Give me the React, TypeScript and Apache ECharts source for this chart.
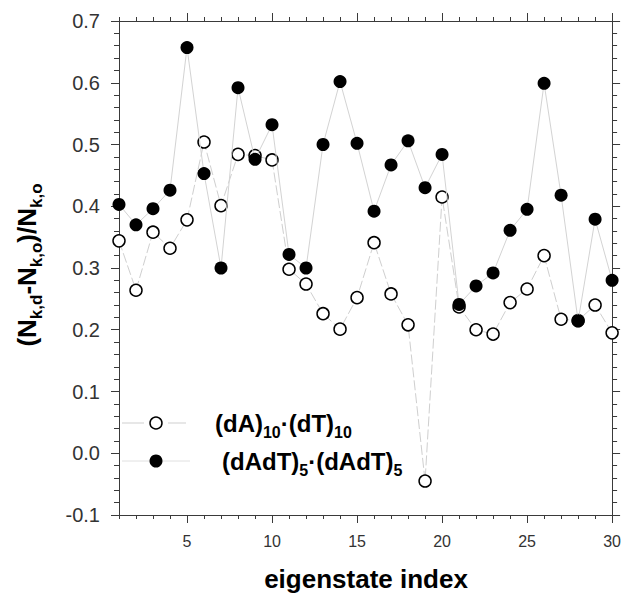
import React, { useEffect, useRef } from 'react';
import * as echarts from 'echarts';

const eigenIndex = [1, 2, 3, 4, 5, 6, 7, 8, 9, 10, 11, 12, 13, 14, 15, 16, 17, 18, 19, 20, 21, 22, 23, 24, 25, 26, 27, 28, 29, 30];
const dA10dT10 = [0.344, 0.264, 0.358, 0.332, 0.378, 0.504, 0.401, 0.484, 0.482, 0.475, 0.298, 0.274, 0.226, 0.201, 0.252, 0.341, 0.258, 0.208, -0.045, 0.415, 0.237, 0.200, 0.193, 0.244, 0.266, 0.320, 0.217, 0.215, 0.240, 0.195];
const dAdT5dAdT5 = [0.403, 0.370, 0.396, 0.426, 0.657, 0.453, 0.300, 0.592, 0.476, 0.532, 0.322, 0.300, 0.500, 0.602, 0.502, 0.392, 0.467, 0.506, 0.430, 0.484, 0.241, 0.271, 0.292, 0.361, 0.395, 0.599, 0.418, 0.214, 0.379, 0.280];
const majorXTicks = [5, 10, 15, 20, 25, 30];
const yMin = -0.1;
const yMax = 0.7;
const yStep = 0.1;

const FONT = 'Liberation Sans, Arial, Helvetica, sans-serif';
const AXIS_COLOR = '#3a3a3a';

export default function App() {
  const ref = useRef<HTMLDivElement>(null);
  useEffect(() => {
    if (!ref.current) return;
    const chart = echarts.init(ref.current, undefined, { renderer: 'svg' });
    const grid = { left: 119, right: 11, top: 21, bottom: 80 };
    const minorAxis = (position: 'bottom' | 'top') => ({
      type: 'value',
      position,
      min: 1,
      max: 30,
      interval: 1,
      axisLine: { show: true, onZero: false, lineStyle: { color: AXIS_COLOR, width: 1 } },
      axisTick: { show: true, inside: false, length: 4, lineStyle: { color: AXIS_COLOR } },
      axisLabel: { show: false },
      splitLine: { show: false },
    });
    const majorAxis = (position: 'bottom' | 'top', labels: boolean) => ({
      type: 'value',
      position,
      min: 1,
      max: 30,
      axisLine: { show: false, onZero: false },
      axisTick: { show: true, inside: false, length: 8, customValues: majorXTicks, lineStyle: { color: AXIS_COLOR } },
      axisLabel: labels
        ? { show: true, customValues: majorXTicks, fontSize: 16, color: '#333', fontFamily: FONT, margin: 18 }
        : { show: false },
      splitLine: { show: false },
    });
    const yAxisDef = (position: 'left' | 'right', labels: boolean) => ({
      type: 'value',
      position,
      min: yMin,
      max: yMax,
      interval: yStep,
      axisLine: { show: true, onZero: false, lineStyle: { color: AXIS_COLOR, width: 1 } },
      axisTick: { show: true, inside: false, length: 8, lineStyle: { color: AXIS_COLOR } },
      minorTick: { show: true, splitNumber: 5, length: 5, lineStyle: { color: AXIS_COLOR } },
      axisLabel: labels
        ? { show: true, fontSize: 20, color: '#333', fontFamily: FONT, margin: 19, formatter: (v: number) => v.toFixed(1) }
        : { show: false },
      splitLine: { show: false },
      minorSplitLine: { show: false },
    });

    const titleRich = {
      m: { fontSize: 26, fontWeight: 'bold', fontFamily: FONT, fill: '#000', lineHeight: 32, verticalAlign: 'top' },
      s: { fontSize: 17, fontWeight: 'bold', fontFamily: FONT, fill: '#000', lineHeight: 32, verticalAlign: 'top', padding: [14, 0, 0, 0] },
    };
    const legendRich = {
      m: { fontSize: 24, fontWeight: 'bold', fontFamily: FONT, fill: '#000', lineHeight: 30, verticalAlign: 'top' },
      s: { fontSize: 16, fontWeight: 'bold', fontFamily: FONT, fill: '#000', lineHeight: 30, verticalAlign: 'top', padding: [13, 0, 0, 0] },
    };

    chart.setOption({
      animation: false,
      backgroundColor: '#fff',
      grid,
      xAxis: [minorAxis('bottom'), majorAxis('bottom', true), minorAxis('top'), majorAxis('top', false)],
      yAxis: [yAxisDef('left', true), yAxisDef('right', false)],
      series: [
        {
          name: '(dA)10·(dT)10',
          type: 'line',
          xAxisIndex: 0,
          yAxisIndex: 0,
          data: eigenIndex.map((x, i) => [x, dA10dT10[i]]),
          symbol: 'circle',
          symbolSize: 12,
          clip: false,
          itemStyle: { color: '#fff', borderColor: '#000', borderWidth: 1.5 },
          lineStyle: { color: '#cfcfcf', width: 1, type: [10, 3] },
          z: 2,
        },
        {
          name: '(dAdT)5·(dAdT)5',
          type: 'line',
          xAxisIndex: 0,
          yAxisIndex: 0,
          data: eigenIndex.map((x, i) => [x, dAdT5dAdT5[i]]),
          symbol: 'circle',
          symbolSize: 13,
          clip: false,
          itemStyle: { color: '#000', borderColor: '#000', borderWidth: 0 },
          lineStyle: { color: '#d3d3d3', width: 1 },
          z: 3,
        },
      ],
      graphic: [
        {
          type: 'text',
          x: 30,
          y: 265,
          rotation: Math.PI / 2,
          style: {
            text: '{m|(N}{s|k,d}{m|-N}{s|k,o}{m|)/N}{s|k,o}',
            rich: titleRich,
            align: 'center',
            verticalAlign: 'middle',
          },
        },
        {
          type: 'text',
          x: 366,
          y: 579,
          style: {
            text: 'eigenstate index',
            fontSize: 26,
            fontWeight: 'bold',
            fontFamily: FONT,
            fill: '#000',
            align: 'center',
            verticalAlign: 'middle',
          },
        },
        { type: 'line', shape: { x1: 122, y1: 423, x2: 144, y2: 423 }, style: { stroke: '#cfcfcf', lineWidth: 1 } },
        { type: 'line', shape: { x1: 168, y1: 423, x2: 186, y2: 423 }, style: { stroke: '#cfcfcf', lineWidth: 1 } },
        { type: 'circle', shape: { cx: 156, cy: 423, r: 6 }, style: { fill: '#fff', stroke: '#000', lineWidth: 1.5 } },
        { type: 'line', shape: { x1: 122, y1: 461, x2: 190, y2: 461 }, style: { stroke: '#e0e0e0', lineWidth: 1 } },
        { type: 'circle', shape: { cx: 156, cy: 461, r: 6.5 }, style: { fill: '#000' } },
        {
          type: 'text',
          x: 215,
          y: 426,
          style: {
            text: '{m|(dA)}{s|10}{m|·(dT)}{s|10}',
            rich: legendRich,
            align: 'left',
            verticalAlign: 'middle',
          },
        },
        {
          type: 'text',
          x: 222,
          y: 464,
          style: {
            text: '{m|(dAdT)}{s|5}{m|·(dAdT)}{s|5}',
            rich: legendRich,
            align: 'left',
            verticalAlign: 'middle',
          },
        },
      ],
    });
    return () => chart.dispose();
  }, []);
  return <div ref={ref} style={{ position: 'fixed', left: 0, top: 0, width: 624, height: 595, background: '#fff' }} />;
}
